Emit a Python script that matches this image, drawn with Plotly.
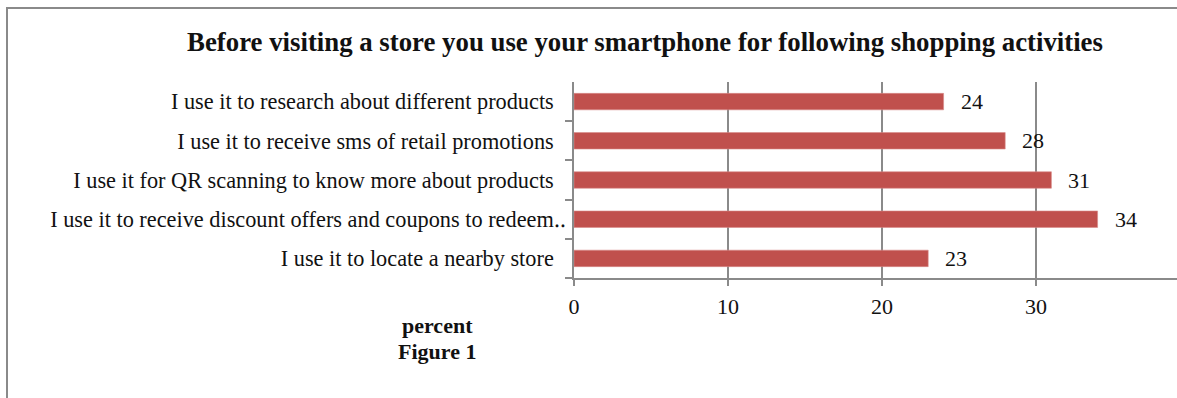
import plotly.graph_objects as go

# Survey responses (percent of respondents), listed top to bottom as displayed
activities = [
    "I use it to research about different products",
    "I use it to receive sms of retail promotions",
    "I use it for QR scanning to know more about products",
    "I use it to receive discount offers and coupons to redeem\u2025",
    "I use it to locate a nearby store",
]
percent = [24, 28, 31, 34, 23]
x_ticks = [0, 10, 20, 30]

W, H = 1177, 398
L, R, T, B = 574, 0, 82, 120
GREY = "#8a8a8a"
BAR = "#C0504D"
SERIF = "Liberation Serif, Times New Roman, serif"
LABEL_SIZE = 22.3
TRUNC = "\u2025"

# long labels are clipped at the axis, with the leader dots overrunning it
tick_text = [a[:-1] if a.endswith(TRUNC) else a for a in activities]

fig = go.Figure(
    go.Bar(
        x=percent,
        y=activities,
        orientation="h",
        marker=dict(color=BAR, line=dict(color="#d98b89", width=0.6)),
        hoverinfo="x+y",
    )
)

# value labels to the right of each bar
for act, val in zip(activities, percent):
    fig.add_annotation(
        x=val, y=act, text=str(val), showarrow=False,
        xanchor="left", yanchor="middle", xshift=15,
        font=dict(family=SERIF, size=22, color="#111"),
    )

plot_w = W - L - R
plot_h = H - T - B


def px_x(p):
    return (p - L) / plot_w


def px_y(p):
    return (H - B - p) / plot_h


for act in activities:
    if act.endswith(TRUNC):
        fig.add_annotation(
            xref="paper", yref="y", x=px_x(552), y=act, text=TRUNC,
            showarrow=False, xanchor="left", yanchor="middle",
            font=dict(family=SERIF, size=LABEL_SIZE, color="#111"),
        )

# outer chart frame (top and left edges visible)
fig.add_shape(type="line", xref="paper", yref="paper",
              x0=px_x(6), x1=px_x(W + 20), y0=px_y(8), y1=px_y(8),
              line=dict(color=GREY, width=2))
fig.add_shape(type="line", xref="paper", yref="paper",
              x0=px_x(7), x1=px_x(7), y0=px_y(8), y1=px_y(H + 20),
              line=dict(color=GREY, width=2))

fig.add_annotation(
    xref="paper", yref="paper", x=px_x(437), y=px_y(325),
    text="<b>percent</b>", showarrow=False, xanchor="center", yanchor="middle",
    font=dict(family=SERIF, size=22, color="#111"),
)
fig.add_annotation(
    xref="paper", yref="paper", x=px_x(437), y=px_y(351),
    text="<b>Figure 1</b>", showarrow=False, xanchor="center", yanchor="middle",
    font=dict(family=SERIF, size=22, color="#111"),
)

fig.update_layout(
    width=W, height=H,
    margin=dict(l=L, r=R, t=T, b=B, pad=0),
    paper_bgcolor="white", plot_bgcolor="white",
    showlegend=False,
    bargap=0.58,
    title=dict(
        text="<b>Before visiting a store you use your smartphone for following shopping activities</b>",
        x=645 / W, xref="container", xanchor="center",
        y=1 - 42 / H, yref="container", yanchor="middle",
        font=dict(family=SERIF, size=26.8, color="#111"),
    ),
    xaxis=dict(
        range=[0, (W - L) / 15.4],
        tickvals=x_ticks,
        showgrid=True, gridcolor=GREY, gridwidth=1.5,
        showline=True, linecolor=GREY, linewidth=1.5,
        ticks="outside", ticklen=6, tickcolor=GREY, tickwidth=1.5,
        tickfont=dict(family=SERIF, size=22, color="#111"),
        ticklabelstandoff=2,
        zeroline=False,
        fixedrange=True,
    ),
    yaxis=dict(
        categoryorder="array",
        categoryarray=activities[::-1],
        tickmode="array",
        tickvals=activities,
        ticktext=tick_text,
        tickson="boundaries",
        showgrid=False,
        showline=True, linecolor=GREY, linewidth=1.5,
        ticks="outside", ticklen=7, tickcolor=GREY, tickwidth=1.5,
        tickfont=dict(family=SERIF, size=LABEL_SIZE, color="#111"),
        ticklabelstandoff=14,
        fixedrange=True,
    ),
)

fig.write_html("out.html")
